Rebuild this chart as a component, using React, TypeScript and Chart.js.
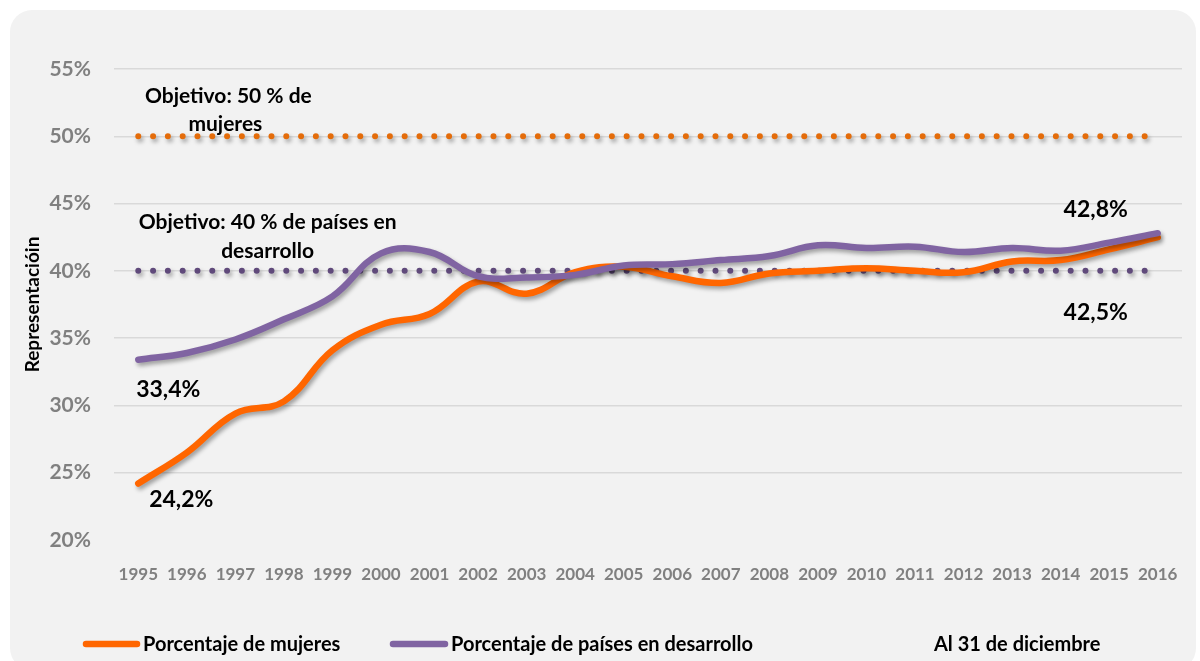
import React, { useEffect, useRef } from 'react';
import { Chart, registerables } from 'chart.js';

Chart.register(...registerables);

const years = ['1995', '1996', '1997', '1998', '1999', '2000', '2001', '2002', '2003', '2004', '2005', '2006', '2007', '2008', '2009', '2010', '2011', '2012', '2013', '2014', '2015', '2016'];
const womenPct = [24.2, 26.5, 29.4, 30.3, 34.1, 36.0, 36.8, 39.2, 38.3, 39.9, 40.3, 39.6, 39.1, 39.8, 40.0, 40.2, 40.0, 39.9, 40.7, 40.8, 41.6, 42.5];
const developingPct = [33.4, 33.9, 34.9, 36.4, 38.1, 41.3, 41.4, 39.6, 39.5, 39.7, 40.4, 40.5, 40.8, 41.1, 41.9, 41.7, 41.8, 41.4, 41.7, 41.5, 42.1, 42.8];
const womenTarget = 50;
const developingTarget = 40;
const yTicks = [20, 25, 30, 35, 40, 45, 50, 55];

const seriesNames = ['Porcentaje de mujeres', 'Porcentaje de países en desarrollo'];
const noteText = 'Al 31 de diciembre';
const axisTitle = 'Representacióin';

const ORANGE = '#FF6600';
const PURPLE = '#8064A2';
const ORANGE_DOT = '#E46C0A';
const PURPLE_DOT = '#604A7B';
const FONT = 'Lato, "Open Sans", sans-serif';

const shadowPlugin = {
  id: 'shadowPlugin',
  beforeDatasetDraw(chart: any) {
    const ctx = chart.ctx;
    ctx.save();
    ctx.shadowColor = 'rgba(0,0,0,0.35)';
    ctx.shadowBlur = 4;
    ctx.shadowOffsetX = 2;
    ctx.shadowOffsetY = 3;
  },
  afterDatasetDraw(chart: any) {
    chart.ctx.restore();
  },
};

const textPlugin = {
  id: 'textPlugin',
  afterDatasetsDraw(chart: any) {
    const { ctx, scales } = chart;
    const xs = scales.x;
    const ys = scales.y;
    ctx.save();
    ctx.fillStyle = '#000';
    ctx.textAlign = 'center';
    ctx.textBaseline = 'middle';
    // target annotations
    ctx.font = `bold 21px ${FONT}`;
    const x1997 = xs.getPixelForValue(2);
    const x1998 = xs.getPixelForValue(3);
    const y50 = ys.getPixelForValue(womenTarget);
    const y40 = ys.getPixelForValue(developingTarget);
    ctx.fillText('Objetivo: 50 % de', x1997 - 7, y50 - 40);
    ctx.fillText('mujeres', x1997 - 10, y50 - 12);
    const xm = (x1997 + x1998) / 2 + 8;
    ctx.fillText('Objetivo: 40 % de países en', xm, y40 - 49);
    ctx.fillText('desarrollo', xm, y40 - 20);
    // value labels
    ctx.font = `bold 23px ${FONT}`;
    const first = 0;
    const last = years.length - 1;
    const fmt = (v: number) => v.toFixed(1).replace('.', ',') + '%';
    ctx.fillText(fmt(developingPct[first]), xs.getPixelForValue(first) + 30, ys.getPixelForValue(developingPct[first]) + 30);
    ctx.fillText(fmt(womenPct[first]), xs.getPixelForValue(first) + 43, ys.getPixelForValue(womenPct[first]) + 16);
    ctx.fillText(fmt(developingPct[last]), xs.getPixelForValue(last) - 62, ys.getPixelForValue(developingPct[last]) - 24);
    ctx.fillText(fmt(womenPct[last]), xs.getPixelForValue(last) - 62, ys.getPixelForValue(womenPct[last]) + 75);
    ctx.restore();
  },
  afterDraw(chart: any) {
    const { ctx } = chart;
    ctx.save();
    const yL = 644;
    ctx.lineCap = 'round';
    ctx.lineWidth = 6.5;
    const items = [
      { color: ORANGE, x0: 86, x1: 137, tx: 143, label: seriesNames[0] },
      { color: PURPLE, x0: 393, x1: 445, tx: 451, label: seriesNames[1] },
    ];
    ctx.font = `bold 20px ${FONT}`;
    ctx.textAlign = 'left';
    ctx.textBaseline = 'middle';
    for (const it of items) {
      ctx.strokeStyle = it.color;
      ctx.beginPath();
      ctx.moveTo(it.x0, yL);
      ctx.lineTo(it.x1, yL);
      ctx.stroke();
      ctx.fillStyle = '#000';
      ctx.fillText(it.label, it.tx, yL + 1);
    }
    ctx.fillText(noteText, 934, yL + 1);
    ctx.restore();
  },
};

export default function App() {
  const ref = useRef<HTMLCanvasElement | null>(null);

  useEffect(() => {
    if (!ref.current) return;
    const dottedBase = {
      borderWidth: 6,
      borderDash: [0, 14.8],
      borderCapStyle: 'round' as const,
      pointRadius: 0,
      fill: false,
      tension: 0,
    };
    const chart = new Chart(ref.current, {
      type: 'line',
      data: {
        labels: years,
        datasets: [
          {
            label: seriesNames[1],
            data: developingPct,
            borderColor: PURPLE,
            backgroundColor: PURPLE,
            borderWidth: 6.5,
            borderCapStyle: 'round',
            borderJoinStyle: 'round',
            pointRadius: 0,
            tension: 0.4,
            fill: false,
          },
          {
            label: seriesNames[0],
            data: womenPct,
            borderColor: ORANGE,
            backgroundColor: ORANGE,
            borderWidth: 6.5,
            borderCapStyle: 'round',
            borderJoinStyle: 'round',
            pointRadius: 0,
            tension: 0.4,
            fill: false,
          },
          {
            label: 'Objetivo mujeres',
            data: years.map(() => womenTarget),
            borderColor: ORANGE_DOT,
            ...dottedBase,
          },
          {
            label: 'Objetivo países',
            data: years.map(() => developingTarget),
            borderColor: PURPLE_DOT,
            ...dottedBase,
          },
        ],
      },
      options: {
        animation: false,
        responsive: false,
        maintainAspectRatio: false,
        layout: { padding: { left: 0, top: 69, right: 18, bottom: 71 } },
        plugins: {
          legend: { display: false },
          tooltip: { enabled: false },
        },
        scales: {
          x: {
            offset: true,
            grid: { display: false },
            border: { display: false },
            ticks: {
              autoSkip: false,
              maxRotation: 0,
              minRotation: 0,
              padding: 16,
              color: '#808080',
              font: { family: FONT, size: 17, weight: 'bold' },
            },
            afterFit(s: any) {
              s.height = 50;
            },
          },
          y: {
            min: 20,
            max: 55,
            afterBuildTicks(s: any) {
              s.ticks = yTicks.map((v) => ({ value: v }));
            },
            grid: {
              color: (c: any) => (c.tick && c.tick.value === 20 ? 'rgba(0,0,0,0)' : '#d9d9d9'),
              lineWidth: 1.5,
              drawTicks: false,
            },
            border: { display: false },
            ticks: {
              padding: 23,
              color: '#808080',
              font: { family: FONT, size: 21, weight: 'bold' },
              callback: (v: any) => `${v}%`,
            },
            title: {
              display: true,
              text: axisTitle,
              color: '#000',
              font: { family: FONT, size: 19, weight: 'bold' },
              padding: { top: 21, bottom: 0 },
            },
            afterFit(s: any) {
              s.width = 114;
            },
          },
        },
      },
      plugins: [shadowPlugin, textPlugin],
    });
    return () => chart.destroy();
  }, []);

  return (
    <div style={{ position: 'fixed', left: 0, top: 0, width: 1200, height: 661, background: '#fff', overflow: 'hidden' }}>
      <div
        style={{
          position: 'absolute',
          left: 10,
          top: 10,
          width: 1186,
          height: 660,
          borderRadius: 22,
          background: '#f2f2f2',
        }}
      />
      <canvas ref={ref} width={1200} height={661} style={{ position: 'absolute', left: 0, top: 0, width: 1200, height: 661 }} />
    </div>
  );
}
